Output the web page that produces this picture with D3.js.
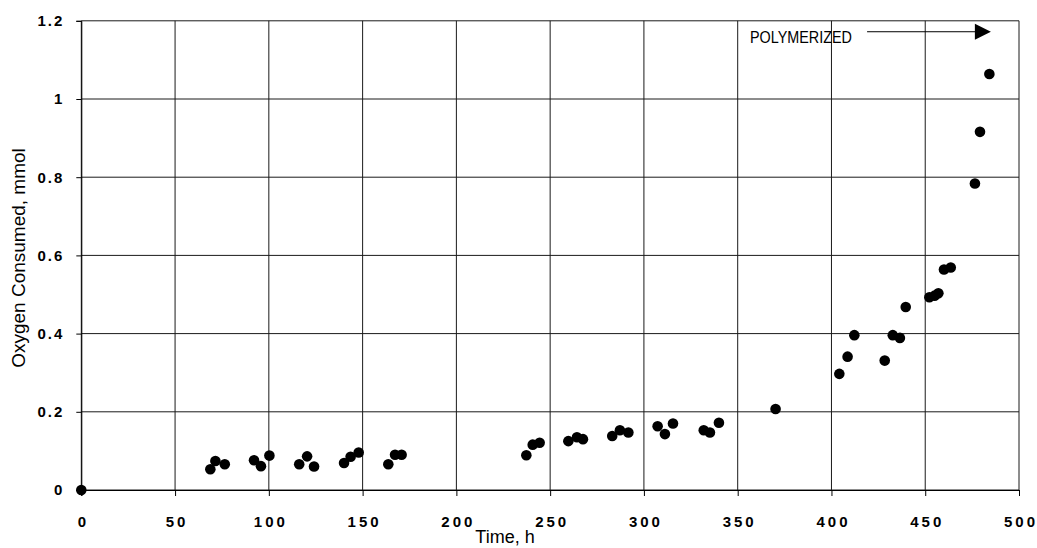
<!DOCTYPE html>
<html>
<head>
<meta charset="utf-8">
<script src="https://cdn.jsdelivr.net/npm/d3@7"></script>
<style>
  html, body { margin: 0; padding: 0; background: #fff; }
  svg { display: block; }
  text { font-family: "Liberation Sans", Arial, Helvetica, sans-serif; fill: #000; }
</style>
</head>
<body>
<svg id="chart" width="1037" height="548"></svg>
<script>
// ---- Data ----
const timeH = [0, 68.8, 71.5, 76.5, 92.1, 95.8, 100.3, 116.2, 120.4, 124.1, 140.1, 143.6, 147.9,
  163.7, 167.3, 170.8, 237.3, 240.7, 244.4, 259.7, 264.3, 267.5, 283.1, 287.2, 291.7,
  307.3, 311.2, 315.5, 331.9, 335.2, 340.0, 370.2, 404.2, 408.6, 412.2, 428.4, 432.7,
  436.5, 439.6, 452.2, 455.0, 457.0, 460.0, 463.6, 476.5, 479.2, 484.2];
const oxygenMmol = [0, 0.053, 0.074, 0.066, 0.076, 0.061, 0.088, 0.066, 0.086, 0.060, 0.069, 0.085, 0.096,
  0.066, 0.090, 0.090, 0.089, 0.116, 0.121, 0.125, 0.135, 0.130, 0.138, 0.153, 0.147,
  0.163, 0.143, 0.170, 0.153, 0.147, 0.172, 0.207, 0.297, 0.341, 0.396, 0.331, 0.396,
  0.389, 0.468, 0.493, 0.497, 0.503, 0.564, 0.569, 0.784, 0.916, 1.064];
const xTicks = [0, 50, 100, 150, 200, 250, 300, 350, 400, 450, 500];
const yTicks = [0, 0.2, 0.4, 0.6, 0.8, 1, 1.2];
const xTitle = "Time, h";
const yTitle = "Oxygen Consumed, mmol";
const annotationText = "POLYMERIZED";
const annotationArrow = [419, 485]; // time range of the arrow
const annotationLevel = 1.172;      // oxygen level of the arrow

// ---- Layout ----
const svg = d3.select("#chart");
const plotL = 81.3, plotR = 1019, plotT = 20.8, plotB = 490;
const x = d3.scaleLinear().domain([0, 500]).range([plotL, plotR]);
const y = d3.scaleLinear().domain([0, 1.2]).range([plotB, plotT]);

svg.append("rect").attr("width", 1037).attr("height", 548).attr("fill", "#fff");

// grid
const grid = svg.append("g");
grid.selectAll("line.h").data(yTicks).join("line")
  .attr("x1", plotL).attr("x2", plotR)
  .attr("y1", d => y(d)).attr("y2", d => y(d))
  .attr("stroke", "#1a1a1a").attr("stroke-width", 1);
grid.selectAll("line.v").data(xTicks).join("line")
  .attr("y1", plotT).attr("y2", plotB)
  .attr("x1", d => x(d)).attr("x2", d => x(d))
  .attr("stroke", "#1a1a1a").attr("stroke-width", 1);

// axes
const xAxis = d3.axisBottom(x).tickValues(xTicks).tickSize(6).tickPadding(20).tickFormat(d3.format("d"));
const gx = svg.append("g").attr("transform", `translate(0,${plotB})`).call(xAxis);
gx.select(".domain").attr("stroke", "#000");
gx.selectAll(".tick line").attr("stroke", "#000");
gx.selectAll(".tick text")
  .style("font-family", "'Liberation Sans', Arial, sans-serif")
  .style("font-size", "15px").style("font-weight", "bold")
  .style("letter-spacing", "3px").attr("dx", "1.5px");

const yAxis = d3.axisLeft(y).tickValues(yTicks).tickSize(5).tickPadding(12).tickFormat(d => String(d));
const gy = svg.append("g").attr("transform", `translate(${plotL},0)`).call(yAxis);
gy.select(".domain").attr("stroke", "#000");
gy.selectAll(".tick line").attr("stroke", "#000");
gy.selectAll(".tick text")
  .style("font-family", "'Liberation Sans', Arial, sans-serif")
  .style("font-size", "15px").style("font-weight", "bold")
  .style("letter-spacing", "2px");

// titles
svg.append("text").attr("x", 505).attr("y", 543)
  .attr("text-anchor", "middle").style("font-size", "18px").text(xTitle);
svg.append("text")
  .attr("transform", `translate(25,258) rotate(-90)`)
  .attr("text-anchor", "middle").style("font-size", "19px").text(yTitle);

// points
svg.append("g").selectAll("circle").data(timeH.map((t, i) => [t, oxygenMmol[i]])).join("circle")
  .attr("cx", d => x(d[0])).attr("cy", d => y(d[1])).attr("r", 5.3).attr("fill", "#000");

// annotation
svg.append("text").attr("x", 750).attr("y", 43)
  .attr("textLength", 102).attr("lengthAdjust", "spacingAndGlyphs")
  .style("font-size", "17px").text(annotationText);
const ay = y(annotationLevel);
const ax1 = x(annotationArrow[1]);
svg.append("line").attr("x1", x(annotationArrow[0])).attr("x2", ax1 - 14)
  .attr("y1", ay).attr("y2", ay).attr("stroke", "#000").attr("stroke-width", 1);
svg.append("path")
  .attr("d", `M${ax1 - 16},${ay - 8} L${ax1},${ay} L${ax1 - 16},${ay + 8} Z`)
  .attr("fill", "#000");
</script>
</body>
</html>
